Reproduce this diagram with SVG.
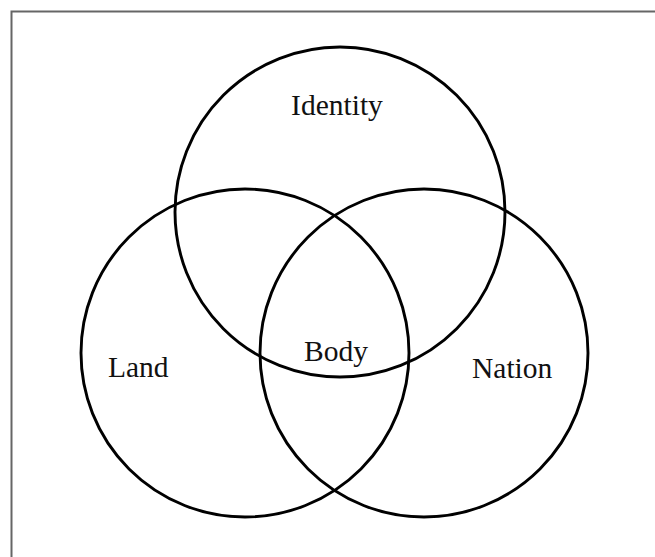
<svg xmlns="http://www.w3.org/2000/svg" width="655" height="557" viewBox="0 0 655 557">
<style>
.c{fill:none;stroke:#000;stroke-width:2.9}
.t{font-family:"Liberation Serif","Times New Roman",serif;font-size:29.5px;fill:#111}
</style>
<rect x="0" y="0" width="655" height="557" fill="#fff"/>
<path d="M11.5,557 V11.5 H655" fill="none" stroke="#666" stroke-width="2"/>
<g id="identity"><circle class="c" cx="340" cy="212" r="165"/><text class="t" x="337" y="115" text-anchor="middle">Identity</text></g>
<g id="land"><circle class="c" cx="245" cy="353" r="164"/><text class="t" x="108" y="377">Land</text></g>
<g id="nation"><circle class="c" cx="424" cy="353" r="164"/><text class="t" x="472" y="378">Nation</text></g>
<g id="body"><text class="t" x="336" y="361" text-anchor="middle">Body</text></g>
<g id="connectors"/>
</svg>
